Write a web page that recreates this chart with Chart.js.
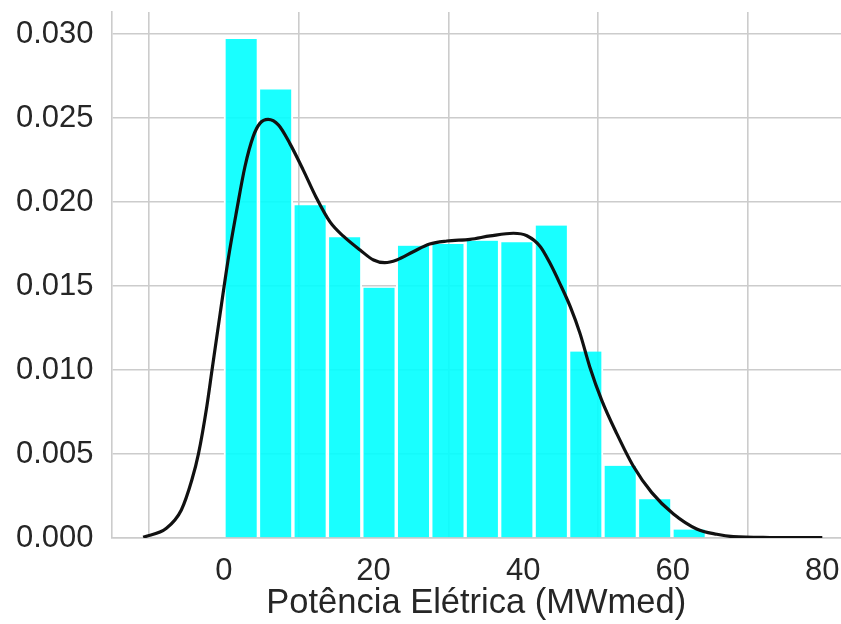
<!DOCTYPE html>
<html>
<head>
<meta charset="utf-8">
<script src="https://cdn.jsdelivr.net/npm/chart.js@4/dist/chart.umd.min.js"></script>
<style>
  html,body{margin:0;padding:0;background:#fff;}
  #wrap{width:841px;height:624px;}
</style>
</head>
<body>
<div id="wrap"><canvas id="chart" width="841" height="624"></canvas></div>
<script>
// histogram bins (centres) and densities
const binCenters=[2.30,6.91,11.52,16.13,20.73,25.34,29.95,34.55,39.16,43.77,48.38,52.98,57.59,62.20];
const binDensity=[0.0297,0.0267,0.0198,0.0179,0.0149,0.0174,0.0175,0.0177,0.0176,0.0186,0.0111,0.0043,0.0023,0.0005];

// kde curve
const kdeX=[-10.8,-7.7,-5.7,-4.3,-3.4,-2.3,-1.6,-0.5,0.6,1.7,2.8,3.9,4.8,5.9,7.3,8.8,10.6,12.3,14.2,16.0,18.2,20.0,21.5,23.1,25.3,27.5,29.8,32.9,35.6,38.7,40.5,42.3,43.6,44.9,46.3,47.6,48.9,50.5,52.5,54.7,57.2,60.1,63.2,65.9,68.1,73.0,80.0];
const kdeY=[0.00004,0.00058,0.00167,0.00345,0.00504,0.00782,0.0100,0.0134,0.0167,0.0195,0.0221,0.02389,0.02468,0.02492,0.02458,0.02349,0.0219,0.0203,0.0188,0.01795,0.01714,0.01655,0.01639,0.01655,0.01704,0.0175,0.01768,0.01778,0.01798,0.01814,0.01799,0.01734,0.01635,0.01516,0.01377,0.01218,0.0102,0.00821,0.00623,0.0043,0.0027,0.00143,0.00054,0.00022,0.00008,0.00003,0.00002];

const xTicks=[0,20,40,60,80];
const yTicks=[0,0.005,0.010,0.015,0.020,0.025,0.030];

const font={family:"'Liberation Sans', Arial, sans-serif",size:31};
const gridColor="#cccccc";

function noPad(s){s.paddingTop=0;s.paddingBottom=0;s.paddingLeft=0;s.paddingRight=0;}

new Chart(document.getElementById("chart"),{
  type:"bar",
  data:{
    datasets:[
      {
        type:"line",
        data:kdeX.map((x,i)=>({x,y:kdeY[i]})),
        borderColor:"#111111",
        borderWidth:3.2,
        pointRadius:0,
        cubicInterpolationMode:"monotone",
        fill:false,
        order:0
      },
      {
        type:"bar",
        data:binCenters.map((x,i)=>({x,y:binDensity[i]})),
        backgroundColor:"rgba(0,255,255,0.9)",
        borderColor:"#ffffff",
        borderWidth:{left:2,right:2,top:0,bottom:0},
        borderSkipped:false,
        barPercentage:1,
        categoryPercentage:1,
        order:1
      }
    ]
  },
  options:{
    responsive:false,
    animation:false,
    layout:{padding:{top:12,right:0,left:0,bottom:0}},
    plugins:{legend:{display:false},tooltip:{enabled:false}},
    scales:{
      x:{
        type:"linear",
        offset:false,
        min:-15.04,
        max:82.5,
        afterBuildTicks:s=>{s.ticks=xTicks.map(v=>({value:v}));},
        afterFit:s=>{s.height=86;noPad(s);},
        grid:{color:gridColor,lineWidth:1.6,drawTicks:false},
        border:{color:gridColor,width:1.6},
        ticks:{font,color:"#262626",padding:15,maxRotation:0,callback:v=>String(v)},
        title:{display:true,text:"Potência Elétrica (MWmed)",font:{family:font.family,size:34.5},color:"#262626",padding:{top:0,bottom:0}}
      },
      y:{
        min:0,
        max:0.03131,
        afterBuildTicks:s=>{s.ticks=yTicks.map(v=>({value:v}));},
        afterFit:s=>{s.width=111.5;noPad(s);},
        grid:{color:gridColor,lineWidth:1.6,drawTicks:false},
        border:{color:gridColor,width:1.6},
        ticks:{font,color:"#262626",padding:18,callback:v=>v.toFixed(3)}
      }
    }
  }
});
</script>
</body>
</html>
